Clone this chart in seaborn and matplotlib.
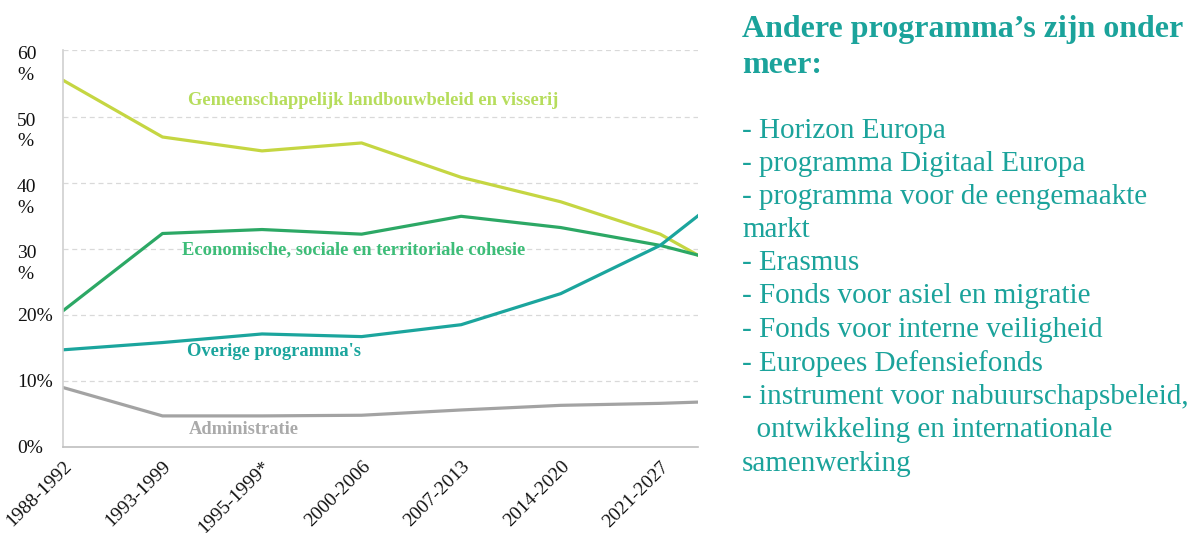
import matplotlib
matplotlib.use('Agg')
import matplotlib.pyplot as plt
import matplotlib.transforms as mtransforms
import numpy as np
import pandas as pd
import seaborn as sns

# MFF-perioden (x-as) en aandeel per rubriek in %
perioden = ['1988-1992', '1993-1999', '1995-1999*', '2000-2006', '2007-2013', '2014-2020', '2021-2027']
# laatste waarde valt buiten de zichtbare as (lijn wordt afgekapt aan de rand)
landbouw = [55.5, 46.9, 44.8, 46.0, 40.8, 37.1, 32.2, 23.8]
cohesie = [20.6, 32.3, 32.9, 32.2, 34.9, 33.2, 30.5, 26.6]
overige = [14.7, 15.8, 17.1, 16.7, 18.5, 23.2, 30.5, 42.3]
administratie = [9.0, 4.7, 4.7, 4.8, 5.6, 6.3, 6.6, 7.1]

reeksen = ['Gemeenschappelijk landbouwbeleid en visserij',
           'Economische, sociale en territoriale cohesie',
           "Overige programma's",
           'Administratie']
lijnkleuren = ['#c5d642', '#2ca865', '#1ba59d', '#a3a3a3']
tekstkleuren = ['#b6dd5c', '#3dbd78', '#1ba59d', '#aaaaaa']
label_pos = [(1.26, 52.4), (1.20, 29.8), (1.25, 14.4), (1.26, 2.6)]

ytick_waarden = [0, 10, 20, 30, 40, 50, 60]
ytick_labels = ['0%', '10%', '20%', '30\n%', '40\n%', '50\n%', '60\n%']

df = pd.DataFrame({
    'x': list(range(len(landbouw))) * 4,
    'waarde': landbouw + cohesie + overige + administratie,
    'reeks': np.repeat(reeksen, len(landbouw)),
})

sns.set_style('white')
plt.rcParams['font.family'] = ['Liberation Serif', 'DejaVu Serif']

fig = plt.figure(figsize=(11.99, 5.33), dpi=100)
ax = fig.add_axes([0.0525, 0.1614, 0.5297, 0.744])

sns.lineplot(data=df, x='x', y='waarde', hue='reeks', palette=lijnkleuren,
             hue_order=reeksen, linewidth=2.3, legend=False, ax=ax)

ax.set_xlim(0, 6.38)
ax.set_ylim(0, 60)
ax.set_xlabel('')
ax.set_ylabel('')

ax.set_yticks(ytick_waarden)
ax.set_yticklabels(ytick_labels, fontsize=14, color='#111111')
ax.tick_params(axis='y', length=0, pad=33)
# tweeregelige labels: eerste regel op de tick
verschuiving = mtransforms.ScaledTranslation(0, -11 / 100, fig.dpi_scale_trans)
for lab in ax.get_yticklabels():
    lab.set_ha('left')
    lab.set_multialignment('left')
    lab.set_linespacing(1.3)
    if '\n' in lab.get_text():
        lab.set_transform(lab.get_transform() + verschuiving)
for y in ytick_waarden[1:]:
    ax.axhline(y, color='#d9d9d9', linestyle=(0, (4, 3)), linewidth=0.9, zorder=0)

ax.set_xticks(range(len(perioden)))
ax.set_xticklabels(perioden, rotation=45, ha='right', rotation_mode='anchor',
                   fontsize=14, color='#111111')
ax.tick_params(axis='x', length=5, width=1, color='#c8c8c8', pad=3, direction='out')

for s in ['top', 'right']:
    ax.spines[s].set_visible(False)
ax.spines['left'].set_color('#d0d0d0')
ax.spines['bottom'].set_color('#bfbfbf')
ax.spines['left'].set_linewidth(1.2)
ax.spines['bottom'].set_linewidth(1.2)

for naam, kleur, (px, py) in zip(reeksen, tekstkleuren, label_pos):
    ax.text(px, py, naam, color=kleur, fontsize=13.3, fontweight='bold',
            ha='left', va='center')

teal = '#1ba39b'
fig.text(0.619, 0.971, 'Andere programma\u2019s zijn onder\nmeer:', color=teal,
         fontsize=23, fontweight='bold', ha='left', va='top', linespacing=1.30)
body = ('- Horizon Europa\n'
        '- programma Digitaal Europa\n'
        '- programma voor de eengemaakte\n'
        'markt\n'
        '- Erasmus\n'
        '- Fonds voor asiel en migratie\n'
        '- Fonds voor interne veiligheid\n'
        '- Europees Defensiefonds\n'
        '- instrument voor nabuurschapsbeleid,\n'
        '  ontwikkeling en internationale\n'
        'samenwerking')
fig.text(0.619, 0.779, body, color=teal, fontsize=21, ha='left', va='top',
         linespacing=1.357)

fig.savefig('out.png', dpi=100)
